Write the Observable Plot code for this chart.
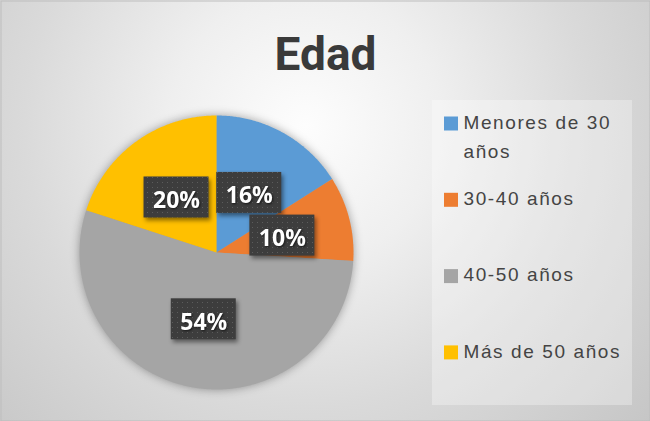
<!DOCTYPE html>
<html>
<head>
<meta charset="utf-8">
<script src="https://cdn.jsdelivr.net/npm/d3@7"></script>
<script src="https://cdn.jsdelivr.net/npm/@observablehq/plot@0.6"></script>
<style>
  html, body { margin: 0; padding: 0; background: #fff; }
  #chart { width: 650px; height: 421px; }
  #chart svg { display: block; }
  g[aria-label="line"] { filter: drop-shadow(0 0 5px rgba(0,0,0,0.35)); }
  g.lbox { filter: drop-shadow(2px 3px 2px rgba(0,0,0,0.45)); }
  g.ltext { filter: drop-shadow(1px 1px 1px rgba(0,0,0,0.6)); }
</style>
</head>
<body>
<div id="chart"></div>
<script>
// ---- data ----
const title = "Edad";
const categories = ["Menores de 30 años", "30-40 años", "40-50 años", "Más de 50 años"];
const legendLabels = ["Menores de 30\naños", "30-40 años", "40-50 años", "Más de 50 años"];
const values = [16, 10, 54, 20];
const colors = ["#5B9BD5", "#ED7D31", "#A5A5A5", "#FFC000"];

// ---- layout ----
const W = 650, H = 421;
const cx = 216, cy = 252, R = 137, labelR = 68;
const boxW = 65, boxH = 41;

const data = categories.map((cat, i) => ({cat, value: values[i]}));
const arcs = d3.pie().sort(null).value(d => d.value)(data);

const px = a => r => cx + r * Math.sin(a);
const py = a => r => cy - r * Math.cos(a);

// slice outlines (center + points on the arc)
const sliceRows = [];
arcs.forEach(a => {
  sliceRows.push({cat: a.data.cat, x: cx, y: cy});
  const n = Math.max(2, Math.ceil((a.endAngle - a.startAngle) / (Math.PI / 360)));
  for (let k = 0; k <= n; ++k) {
    const t = a.startAngle + (a.endAngle - a.startAngle) * k / n;
    sliceRows.push({cat: a.data.cat, x: px(t)(R), y: py(t)(R)});
  }
});

// data labels at mid-angle
const labelRows = arcs.map(a => {
  const m = (a.startAngle + a.endAngle) / 2;
  return {cat: a.data.cat, value: a.data.value, x: px(m)(labelR), y: py(m)(labelR)};
});

// legend rows
const legendRows = categories.map((cat, i) => ({cat, label: legendLabels[i], base: 129 + i * 76.3}));

const fontUI = "'Liberation Sans', Arial, sans-serif";

const svg = Plot.plot({
  width: W, height: H,
  margin: 0,
  x: {domain: [0, W], range: [0, W], axis: null},
  y: {domain: [0, H], range: [0, H], axis: null},
  color: {domain: categories, range: colors},
  style: {
    background: "radial-gradient(circle farthest-corner at 47% 30%, #fdfdfd 0%, #efefef 30%, #dadada 62%, #c6c6c6 100%)",
    overflow: "visible"
  },
  marks: [
    Plot.frame({stroke: "#bdbdbd", inset: 0.5}),
    // title
    Plot.text([title], {x: () => 325, y: () => 55, text: d => d, fontSize: 46, fontWeight: "bold",
      fill: "#3a3a3a", fontFamily: "'Liberation Sans Narrow', 'Roboto', sans-serif"}),
    // pie slices
    Plot.line(sliceRows, {x: "x", y: "y", fill: "cat", stroke: "none", curve: "linear-closed"}),
    // label boxes
    Plot.rect(labelRows, {x1: d => d.x - boxW / 2, x2: d => d.x + boxW / 2,
      y1: d => d.y - boxH / 2, y2: d => d.y + boxH / 2, fill: "#404040", className: "lbox"}),
    Plot.text(labelRows, {x: "x", y: "y", dy: 3, text: d => d.value + "%", fill: "white",
      fontSize: 23, fontWeight: "bold", fontFamily: "'Open Sans', sans-serif", className: "ltext"}),
    // legend box
    Plot.rect([0], {x1: () => 432, x2: () => 632, y1: () => 100, y2: () => 405, fill: "#ffffff", fillOpacity: 0.3}),
    Plot.rect(legendRows, {x1: () => 444, x2: () => 458, y1: d => d.base - 12.5, y2: d => d.base + 1.5, fill: "cat"}),
    Plot.text(legendRows, {x: () => 463, y: d => d.base - 21.5, text: "label", textAnchor: "start",
      lineAnchor: "top", lineHeight: 1.53, fontSize: 19, fill: "#444444", fontFamily: fontUI,
      className: "legtext"})
  ]
});

// dotted pattern for label boxes
const sel = d3.select(svg);
const defs = sel.insert("defs", ":first-child");
const pat = defs.append("pattern").attr("id", "dots").attr("patternUnits", "userSpaceOnUse")
  .attr("width", 5).attr("height", 5);
pat.append("rect").attr("width", 5).attr("height", 5).attr("fill", "#3d3d3d");
pat.append("rect").attr("x", 2).attr("y", 2).attr("width", 1).attr("height", 1).attr("fill", "#5c5c5c");
sel.selectAll("g.lbox rect").attr("fill", "url(#dots)");
sel.selectAll("g.legtext text").style("letter-spacing", "1.6px");

document.getElementById("chart").appendChild(svg);
</script>
</body>
</html>
